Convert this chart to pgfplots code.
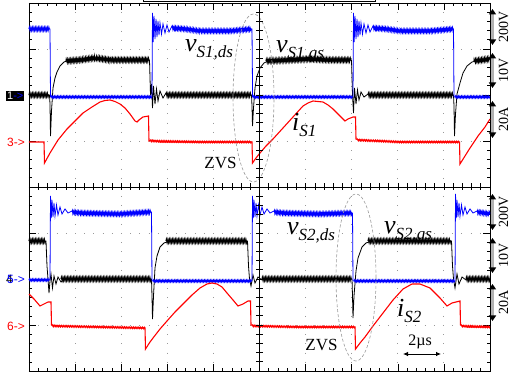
\documentclass[border=0pt]{standalone}
\usepackage{pgfplots}
\pgfplotsset{compat=1.18}
\usepackage{fontspec}
\setmainfont{Liberation Serif}
\newfontfamily\sansf{Liberation Sans}
\usetikzlibrary{arrows.meta,decorations.pathmorphing}
\definecolor{scblue}{RGB}{0,0,255}
\definecolor{scred}{RGB}{255,0,0}
\newcommand{\lab}[2]{{\fontsize{26}{26}\selectfont\itshape #1}\raisebox{-6pt}{\fontsize{17}{17}\selectfont\itshape #2}}
\tikzset{
 noisyk/.style={black, line width=1.1pt, decorate, decoration={zigzag, segment length=1.5pt, amplitude=1.7pt}},
 noisyb/.style={scblue, line width=1.1pt, decorate, decoration={zigzag, segment length=1.5pt, amplitude=1.5pt}},
 noisybl/.style={scblue, line width=1pt, decorate, decoration={zigzag, segment length=1.5pt, amplitude=1pt}},
 noisyr/.style={scred, line width=1pt, decorate, decoration={zigzag, segment length=1.8pt, amplitude=0.8pt}},
}
\begin{document}
\begin{tikzpicture}
\useasboundingbox (-29pt,-3pt) rectangle (484pt,371pt);
\begin{axis}[
 width=461pt,height=368pt,scale only axis,
 xmin=29,xmax=490,ymin=7,ymax=375,y dir=reverse,
 axis line style={black,line width=0.8pt},
 xtick={29,75.1,121.2,167.3,213.4,259.5,305.6,351.7,397.8,443.9,490},
 ytick={7,53,99,145,191,237,283,329,375},
 minor x tick num=4, minor y tick num=4,
 xticklabels={}, yticklabels={},
 tick align=inside, tick pos=both,
 major tick length=7pt, minor tick length=3.5pt,
 tick style={black,line width=0.6pt},
 grid=major,
 major grid style={gray!80, line width=0.9pt, dash pattern=on 0.9pt off 8.3pt},
 clip=false,
]
% ---------- top panel: black v_S1,gs ----------
\addplot[black, line width=0.8pt] coordinates {
(29,99) (49.5,99) (50,108) (50.5,140) (51.5,115) (53,92) (55,82) (57,76) (60,70) (64,66) (70,64) (80,64) (95,62) (110,64) (130,64) (149.5,64)
(150.5,99) (151.5,88) (152.5,112) (153.5,90) (155,108) (156.5,93) (158,105) (160,95) (163,102) (166,97) (170,99) (251.5,99)
(252,110) (252.5,130) (253.5,112) (255,92) (257,80) (260,72) (264,67) (270,64) (290,64) (310,63) (330,64) (351.5,64)
(352.5,99) (353.5,117) (354.5,92) (356,108) (357.5,94) (359,104) (361,96) (364,101) (368,98) (372,99) (453.5,99)
(454,110) (454.5,140) (455.5,118) (457,98) (460,87) (463,77) (467,70) (472,66) (480,64) (490,63)};
\addplot[noisyk] coordinates {(29,99) (49,99)};
\addplot[noisyk] coordinates {(66,65) (80,64) (95,62) (110,64) (130,64) (149,64)};
\addplot[noisyk] coordinates {(166,99) (251,99)};
\addplot[noisyk] coordinates {(266,65) (290,64) (310,63) (330,64) (351,64)};
\addplot[noisyk] coordinates {(368,99) (453,99)};
\addplot[noisyk] coordinates {(474,65) (490,63)};
% ---------- top panel: blue v_S1,ds ----------
\addplot[scblue, line width=0.8pt] coordinates {
(29,33) (50,33) (50.5,101) (152,101)
(152.5,17) (153.2,46) (154,20) (155,43) (156,23) (157,41) (158,25) (159,39) (160,27) (161.5,38) (163,28) (165,37) (167,29) (169,36) (172,30) (175,35) (178,32) (185,33) (200,35) (230,35) (252,33)
(252.6,101) (353,101)
(353.5,17) (354.2,46) (355,20) (356,43) (357,23) (358,41) (359,25) (360,39) (361,27) (362.5,38) (364,28) (366,37) (368,29) (370,36) (373,30) (376,35) (379,32) (386,33) (400,35) (430,35) (453.5,33)
(454,101) (490,101)};
\addplot[noisyb] coordinates {(29,33) (49.5,33)};
\addplot[noisyb] coordinates {(172,32) (185,33) (200,35) (230,35) (251.5,33)};
\addplot[noisyb] coordinates {(373,32) (386,33) (400,35) (430,35) (453,33)};
\addplot[noisybl] coordinates {(51,101) (151.5,101)};
\addplot[noisybl] coordinates {(253,101) (352.5,101)};
\addplot[noisybl] coordinates {(455,101) (490,101)};
% ---------- top panel: red i_S1 ----------
\addplot[scred, line width=1.1pt] coordinates {
(29,146) (44,146) (44.5,167) (50,157) (58,144) (67,133) (75,125) (83,117) (92,111) (100,106) (105,104.5) (110,104) (115,105.5) (120,108) (125,112) (130,118) (135,125) (137,126) (139,124) (143,121) (148.5,120)
(149,145) (152,144) (160,146) (200,146) (252,146)
(252.5,167) (256,162) (260,157) (266,150) (273,143) (283,132) (293,121) (303,110) (308,107) (313,105) (318,105.5) (323,106) (328,109) (333,113) (340,120) (345,125) (348,123) (353,121) (355.5,121)
(356,143) (360,144) (400,146) (459.5,146)
(460,168) (465,160) (470,152) (478,140) (485,131) (490,123)};
\addplot[noisyr] coordinates {(150,145) (200,146) (251.5,146)};
\addplot[noisyr] coordinates {(357,144) (400,146) (459,146)};
% ---------- bottom panel: black v_S2,gs ----------
\addplot[black, line width=0.8pt] coordinates {
(29,245) (46,245) (47,270) (48,283) (49,297) (50,285) (51,278) (52.5,292) (54,280) (56,288) (58,281) (61,286) (65,283) (151.5,283)
(152,300) (152.5,323) (153.5,300) (155,272) (157,260) (160,251) (164,247) (170,245) (200,245) (247.5,245)
(248.5,270) (249.5,283) (251,290) (253,279) (255,287) (258,281) (262,284) (266,283) (352,283)
(352.5,300) (353,322) (354,300) (356,275) (358,262) (362,251) (366,247) (372,245) (420,245) (451.5,245)
(452.5,270) (453.5,283) (455,292) (457,278) (459,288) (462,281) (466,284) (470,283) (490,283)};
\addplot[noisyk] coordinates {(29,245) (45.5,245)};
\addplot[noisyk] coordinates {(61,283) (151,283)};
\addplot[noisyk] coordinates {(166,245) (247,245)};
\addplot[noisyk] coordinates {(262,283) (351.5,283)};
\addplot[noisyk] coordinates {(368,245) (451,245)};
\addplot[noisyk] coordinates {(466,283) (490,283)};
% ---------- bottom panel: blue v_S2,ds ----------
\addplot[scblue, line width=0.8pt] coordinates {
(29,284) (50,284)
(50.5,200) (51.3,222) (52,204) (53,221) (54,207) (55,220) (56.5,209) (58,219) (60,211) (62,218) (65,213) (68,217) (72,215) (80,217) (120,218) (151.5,216)
(152,285) (252,285)
(252.5,200) (253.3,222) (254,204) (255,221) (256,207) (257,220) (258.5,209) (260,219) (262,211) (264,218) (267,213) (270,217) (274,215) (282,217) (320,218) (352.5,217)
(353,285) (455,285)
(455.5,198) (456.3,222) (457,204) (458,221) (459,207) (460,220) (461.5,209) (463,219) (465,211) (467,218) (470,213) (473,217) (477,215) (485,217) (490,218)};
\addplot[noisyb] coordinates {(72,216) (80,217) (120,218) (151,216)};
\addplot[noisyb] coordinates {(274,216) (282,217) (320,218) (352,217)};
\addplot[noisyb] coordinates {(477,216) (490,218)};
\addplot[noisybl] coordinates {(29,284) (49.5,284)};
\addplot[noisybl] coordinates {(153,285) (251.5,285)};
\addplot[noisybl] coordinates {(354,285) (454.5,285)};
% ---------- bottom panel: red i_S2 ----------
\addplot[scred, line width=1.1pt] coordinates {
(29,298) (34,303) (40,310) (44,308) (48,306) (51,306)
(51.5,329) (60,330) (100,331) (145,332)
(145.5,353) (150,346) (153,342) (160,333) (167,325) (175,316) (183,308) (192,299) (200,292) (207,288) (212,287) (217,288) (222,291) (227,297) (233,304) (238,310) (243,308) (248,305) (250.5,305)
(251,329) (260,330) (300,331) (355,331)
(355.5,353) (360,347) (365,341) (373,330) (383,317) (393,304) (403,293) (412,288) (420,288) (430,292) (440,302) (447,310) (452,307) (460,305)
(460.5,329) (467,331) (490,331)};
\addplot[noisyr] coordinates {(52,330) (100,331) (145,332)};
\addplot[noisyr] coordinates {(252,330) (300,331) (355,331)};
\addplot[noisyr] coordinates {(461,330) (490,331)};
% ---------- annotations ----------
\node[anchor=base west, inner sep=0pt] at (axis cs:185,56) {\lab{v}{S1,ds}};
\node[anchor=base west, inner sep=0pt] at (axis cs:276,57) {\lab{v}{S1,gs}};
\node[anchor=base west, inner sep=0pt] at (axis cs:292,135) {\lab{i}{S1}};
\node[anchor=base west, inner sep=0pt] at (axis cs:287,238) {\lab{v}{S2,ds}};
\node[anchor=base west, inner sep=0pt] at (axis cs:384,237) {\lab{v}{S2,gs}};
\node[anchor=base west, inner sep=0pt] at (axis cs:397,320) {\lab{i}{S2}};
\node[font=\fontsize{17}{17}\selectfont, inner sep=0pt] at (axis cs:220.5,167) {ZVS};
\node[font=\fontsize{17}{17}\selectfont, inner sep=0pt] at (axis cs:321.5,349) {ZVS};
\node[font=\fontsize{16}{16}\selectfont, inner sep=0pt] at (axis cs:420,346) {2µs};
\draw[{Latex[length=5pt,width=4.5pt]}-{Latex[length=5pt,width=4.5pt]}, line width=0.8pt] (axis cs:403,358) -- (axis cs:441,358);
\draw[gray!80, line width=0.6pt, dash pattern=on 3pt off 2pt] (axis cs:253.5,102) ellipse [x radius=20.5pt, y radius=84pt];
\draw[gray!80, line width=0.6pt, dash pattern=on 3pt off 2pt] (axis cs:356,281.5) ellipse [x radius=20pt, y radius=83.5pt];
% top memory bracket
\draw[line width=0.8pt] (axis cs:143,-2) -- (axis cs:143,5) -- (axis cs:375,5) -- (axis cs:375,-2);
% left channel markers
\node[fill=black, inner sep=1pt, anchor=west, font=\sansf\fontsize{11}{11}\selectfont] at (axis cs:6,100) {\textcolor{white}{1}\textcolor{scblue}{->}};
\node[text=scred, inner sep=0pt, anchor=west, font=\sansf\fontsize{12}{12}\selectfont] at (axis cs:7,146) {3->};
\node[text=black, inner sep=0pt, anchor=west, font=\sansf\fontsize{12}{12}\selectfont] at (axis cs:6,283) {4};
\node[text=scblue, inner sep=0pt, anchor=west, font=\sansf\fontsize{12}{12}\selectfont] at (axis cs:7,283) {5->};
\node[text=scred, inner sep=0pt, anchor=west, font=\sansf\fontsize{12}{12}\selectfont] at (axis cs:7,330) {6->};
\end{axis}
% centre cross lines with ticks, right scale indicators
\begin{scope}[x=1pt,y=-1pt,shift={(-29pt,375pt)}]
\draw[line width=0.7pt] (259.5,7) -- (259.5,375);
\draw[line width=0.8pt] (29,191) -- (490,191);
\foreach \k in {1,...,39} \draw[line width=0.6pt] (256,{7+9.2*\k}) -- (263,{7+9.2*\k});
\foreach \k in {1,...,49} \draw[line width=0.6pt] ({29+9.22*\k},187.5) -- ({29+9.22*\k},194.5);
\foreach \a/\b/\c/\tx in {13/49/31/200V, 57/92/74/10V, 105/142/123/20A, 198/234/216/200V, 242/277/259/10V, 288/325/306/20A}{
  \draw[gray!60, line width=2.5pt, {Triangle[width=7pt,length=5.5pt,color=black]}-{Triangle[width=7pt,length=5.5pt,color=black]}] (492.5,\a) -- (492.5,\b);
  \node[rotate=90, font=\fontsize{14}{14}\selectfont, inner sep=0pt] at (503.5,\c) {\tx};
}
\end{scope}
\end{tikzpicture}
\end{document}
